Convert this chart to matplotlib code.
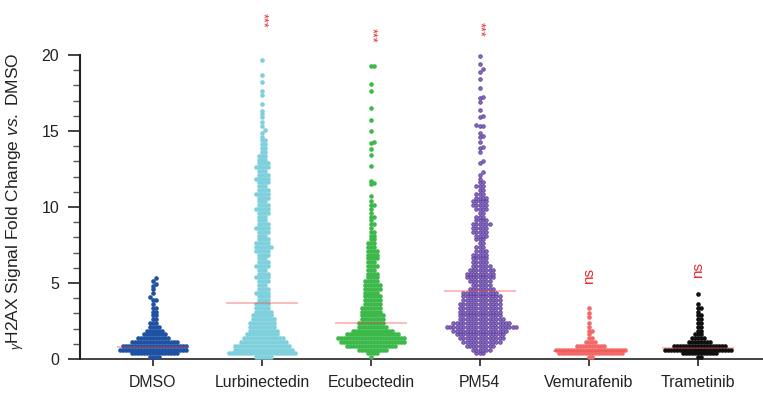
"""
gH2AX fold change swarm chart - six treatments vs DMSO
"""

import numpy as np
import matplotlib
matplotlib.use("Agg")
import matplotlib.pyplot as plt
from matplotlib.ticker import MultipleLocator

plt.rcParams["font.family"] = ["Liberation Sans", "DejaVu Sans"]
plt.rcParams["mathtext.fontset"] = "custom"
plt.rcParams["mathtext.rm"] = "Liberation Sans"
plt.rcParams["mathtext.it"] = "Liberation Sans:italic"

# ─── Data ────────────────────────────────────────────────────────────
groups = ["DMSO", "Lurbinectedin", "Ecubectedin", "PM54", "Vemurafenib", "Trametinib"]
colors = ["#2052a4", "#7fd0dd", "#3db84a", "#6b4aa8", "#f26a68", "#101010"]

# number of cells per 0.25-wide fold-change bin, first bin centred on 0.125
bin_width = 0.25
dmso_bins = [4, 16, 23, 22, 16, 11, 8, 6, 4, 3, 2, 2, 2, 2, 1, 2]
lurb_bins = [6, 23, 20, 19, 16, 14, 11, 10, 9, 9, 8, 7, 6, 5, 5, 4,
             4, 5, 4, 3, 4, 5, 4, 3, 5, 4, 3, 4, 5, 6, 5, 4,
             3, 4, 5, 4, 3, 3, 4, 5, 4, 3, 4, 5, 4, 3, 4, 5,
             4, 3, 5, 4, 3, 3, 2, 2, 2, 2, 1, 1]
ecub_bins = [1, 4, 10, 17, 22, 23, 18, 14, 10, 9, 8, 8, 7, 7, 6, 6,
             6, 5, 6, 6, 5, 4, 4, 3, 4, 3, 4, 4, 4, 3, 3, 2,
             2, 2, 1, 2, 1, 2, 1, 1, 2, 1]
pm54_bins = [0, 3, 6, 9, 12, 14, 15, 17, 22, 18, 14, 13, 13, 13, 13, 12,
             12, 11, 8, 6, 7, 9, 9, 8, 6, 5, 5, 5, 4, 3, 2, 3,
             4, 5, 5, 6, 4, 3, 2, 4, 5, 5, 4, 3, 2, 3, 2, 1]
vemu_bins = [2, 22, 24, 10, 4, 2, 1, 2, 1, 1]
tram_bins = [2, 12, 23, 18, 8, 5, 3, 2, 2, 2, 2, 2, 1, 2, 1]

# single high cells above the dense part
dmso_tail = [4.05, 4.35, 4.6, 4.8, 4.95, 5.15, 5.3]
lurb_tail = [15.07, 15.3, 15.6, 15.9, 16.1, 16.3, 16.8, 17.4, 17.65, 18.2, 18.7, 19.7]
ecub_tail = [10.7, 11.5, 11.6, 11.7, 12.7, 13.4, 13.8, 14.2, 14.25, 15.0,
             15.7, 16.5, 17.6, 18.1, 19.3, 19.3]
pm54_tail = [12.1, 12.3, 12.9, 13.0, 13.6, 13.9, 13.95, 14.3, 14.6, 14.65, 14.9,
             15.3, 15.35, 15.4, 15.9, 16.0, 16.4, 16.9, 17.2, 17.25, 17.8,
             18.4, 18.9, 19.1, 19.4, 19.95]
vemu_tail = [2.78, 3.05, 3.33]
tram_tail = [4.25]

all_bins = [dmso_bins, lurb_bins, ecub_bins, pm54_bins, vemu_bins, tram_bins]
all_tails = [dmso_tail, lurb_tail, ecub_tail, pm54_tail, vemu_tail, tram_tail]

medians = [0.8, 3.7, 2.35, 4.47, 0.5, 0.72]
signif = ["", "***", "***", "***", "ns", "ns"]
signif_y = [None, 22.3, 21.3, 21.7, 5.46, 5.86]


def swarm(y_px, d):
    """Simple beeswarm: horizontal pixel offsets so markers don't overlap."""
    order = np.argsort(y_px, kind="stable")
    xs = np.zeros(len(y_px))
    px, py = [], []
    for i in order:
        y = y_px[i]
        near = [(a, b) for a, b in zip(px, py) if abs(b - y) < d]
        for k in range(200):
            found = False
            for c in ((k * d,) if k == 0 else (k * d, -k * d)):
                if all((c - a) ** 2 + (y - b) ** 2 >= d * d * 0.98 for a, b in near):
                    xs[i] = c
                    found = True
                    break
            if found:
                break
        px.append(xs[i])
        py.append(y)
    return xs


fig = plt.figure(figsize=(7.63, 3.96), dpi=100)
ax = fig.add_axes([80 / 763, 37 / 396, 683 / 763, 304 / 396])
ax.set_xlim(-0.67, 5.6)
ax.set_ylim(0, 20)

# pixel scale of the axes
x_scale = ax.transData.transform((1, 0))[0] - ax.transData.transform((0, 0))[0]
y_scale = ax.transData.transform((0, 1))[1] - ax.transData.transform((0, 0))[1]

for g, (bins, tail) in enumerate(zip(all_bins, all_tails)):
    centers = bin_width * (np.arange(len(bins)) + 0.5)
    vals = np.concatenate([np.repeat(centers, bins), tail])
    if groups[g] == "PM54":
        offs = swarm(vals * y_scale, 3.3) / x_scale
        ax.scatter(g + offs, vals, s=6.5, color="#8a6dc2", edgecolors="#5e3f9c",
                   linewidths=0.6, zorder=3, clip_on=False)
    else:
        offs = swarm(vals * y_scale, 3.0) / x_scale
        ax.scatter(g + offs, vals, s=11, color=colors[g], linewidths=0,
                   zorder=3, clip_on=False)
    ax.hlines(medians[g], g - 0.33, g + 0.33, color="#e8453c", alpha=0.45,
              lw=1.1, zorder=4)
    if signif_y[g] is not None:
        big = signif[g] == "ns"
        ax.text(g, signif_y[g], signif[g], rotation=90 if big else 270,
                ha="center", va="center", color="#e8262a",
                fontsize=11 if big else 9, clip_on=False)

# ─── Axes styling ───────────────────────────────────────────────────
ax.spines["top"].set_visible(False)
ax.spines["right"].set_visible(False)
ax.spines["left"].set_linewidth(1.5)
ax.spines["bottom"].set_linewidth(1.2)
ax.spines["left"].set_color("#222222")
ax.spines["bottom"].set_color("#222222")

ax.yaxis.set_major_locator(MultipleLocator(5))
ax.yaxis.set_minor_locator(MultipleLocator(1))
ax.tick_params(axis="y", which="major", direction="out", length=8.5, width=1.2,
               pad=6.5, labelsize=11.5, colors="#222222")
ax.tick_params(axis="y", which="minor", direction="out", length=5, width=1.0,
               colors="#555555")
ax.set_xticks(range(len(groups)))
ax.set_xticklabels(groups)
ax.tick_params(axis="x", direction="out", length=5, width=1.2, pad=6.5,
               labelsize=11.4, colors="#222222")

ax.set_ylabel(r"$_{\gamma}$H2AX Signal Fold Change $\it{vs.}$ DMSO",
              fontsize=12.5, color="#222222")
ax.yaxis.set_label_coords(-0.0776, 0.52)

fig.savefig("out.png", dpi=100)
plt.close(fig)
